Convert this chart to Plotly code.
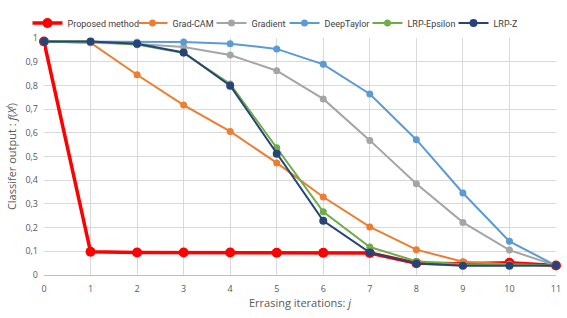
import plotly.graph_objects as go

iterations = list(range(12))
proposed = [0.985, 0.098, 0.095, 0.095, 0.095, 0.094, 0.094, 0.093, 0.05, 0.047, 0.052, 0.04]
grad_cam = [0.985, 0.98, 0.845, 0.717, 0.606, 0.473, 0.329, 0.203, 0.107, 0.056, 0.045, 0.04]
gradient = [0.985, 0.98, 0.975, 0.962, 0.928, 0.862, 0.743, 0.568, 0.385, 0.222, 0.105, 0.04]
deep_taylor = [0.985, 0.985, 0.982, 0.983, 0.976, 0.954, 0.889, 0.764, 0.571, 0.346, 0.142, 0.04]
lrp_epsilon = [0.985, 0.985, 0.972, 0.937, 0.806, 0.537, 0.267, 0.118, 0.058, 0.045, 0.042, 0.04]
lrp_z = [0.985, 0.985, 0.976, 0.939, 0.799, 0.512, 0.229, 0.095, 0.049, 0.039, 0.039, 0.04]
y_ticks = [0, 0.1, 0.2, 0.3, 0.4, 0.5, 0.6, 0.7, 0.8, 0.9, 1]
y_tick_labels = ["0", "0,1", "0,2", "0,3", "0,4", "0,5", "0,6", "0,7", "0,8", "0,9", "1"]

series = [
    ("Proposed method", proposed, "#FF0000", 3.5, 10),
    ("Grad-CAM", grad_cam, "#ED7D31", 2, 7),
    ("Gradient", gradient, "#A5A5A5", 2, 7),
    ("DeepTaylor", deep_taylor, "#5B9BD5", 2, 7),
    ("LRP-Epsilon", lrp_epsilon, "#70AD47", 2, 7),
    ("LRP-Z", lrp_z, "#264478", 2, 8),
]

W, H = 567, 318
M_L, M_R, M_T, M_B = 44, 11, 38, 43
plot_w = W - M_L - M_R
plot_h = H - M_T - M_B

# legend layout: one single-entry legend per series, laid out in a row
legend_text_px = [68, 42, 36, 46, 49, 30]   # approx. text widths of entries
legend_gap = 37                              # text end -> next text start
legend_total = 35 + sum(legend_text_px) + legend_gap * (len(series) - 1)
legend_center = 283
legend_y_px = 23

fig = go.Figure()
legend_layout = {}
text_start = legend_center - legend_total / 2 + 35
for i, (name, vals, color, w, ms) in enumerate(series):
    lg = "legend" if i == 0 else f"legend{i + 1}"
    fig.add_trace(go.Scatter(
        x=iterations, y=vals, name=name, mode="lines+markers",
        line=dict(color=color, width=w),
        marker=dict(color=color, size=ms),
        cliponaxis=False, legend=lg,
    ))
    legend_layout[lg] = dict(
        orientation="h",
        x=(text_start - 45 - M_L) / plot_w, xanchor="left",
        y=(H - M_B - legend_y_px) / plot_h, yanchor="middle",
        font=dict(family="Roboto, sans-serif", size=9, color="#404040"),
        itemwidth=30, bgcolor="rgba(0,0,0,0)",
    )
    text_start += legend_text_px[i] + legend_gap

font_family = "Open Sans, Liberation Sans, sans-serif"
fig.update_layout(
    width=W, height=H,
    margin=dict(l=M_L, r=M_R, t=M_T, b=M_B, autoexpand=False),
    paper_bgcolor="white", plot_bgcolor="white",
    font=dict(family=font_family, size=9, color="#595959"),
    showlegend=True,
    xaxis=dict(
        range=[0, 11], tickmode="array", tickvals=iterations,
        ticktext=[str(i) for i in iterations],
        showgrid=True, gridcolor="#D9D9D9", gridwidth=1,
        showline=True, linecolor="#BFBFBF", linewidth=1, zeroline=False,
        ticks="", ticklabelstandoff=5, ticklabeloverflow="allow",
        tickfont=dict(size=9, color="#595959"),
        title=dict(text="Errasing iterations: <i>j</i>", font=dict(size=11, color="#595959"), standoff=2),
    ),
    yaxis=dict(
        range=[0, 1], tickmode="array", tickvals=y_ticks, ticktext=y_tick_labels,
        showgrid=True, gridcolor="#D9D9D9", gridwidth=1,
        showline=False, zeroline=False, ticks="", ticklabelstandoff=5,
        tickfont=dict(size=9, color="#595959"),
        title=dict(text="Classifer output : <i>f</i>(<i>X<sup>j</sup></i>)", font=dict(size=11, color="#595959"), standoff=6),
    ),
    **legend_layout,
)

fig.write_html("out.html", config={"displayModeBar": False},
               post_script="document.body.style.margin='0';")
